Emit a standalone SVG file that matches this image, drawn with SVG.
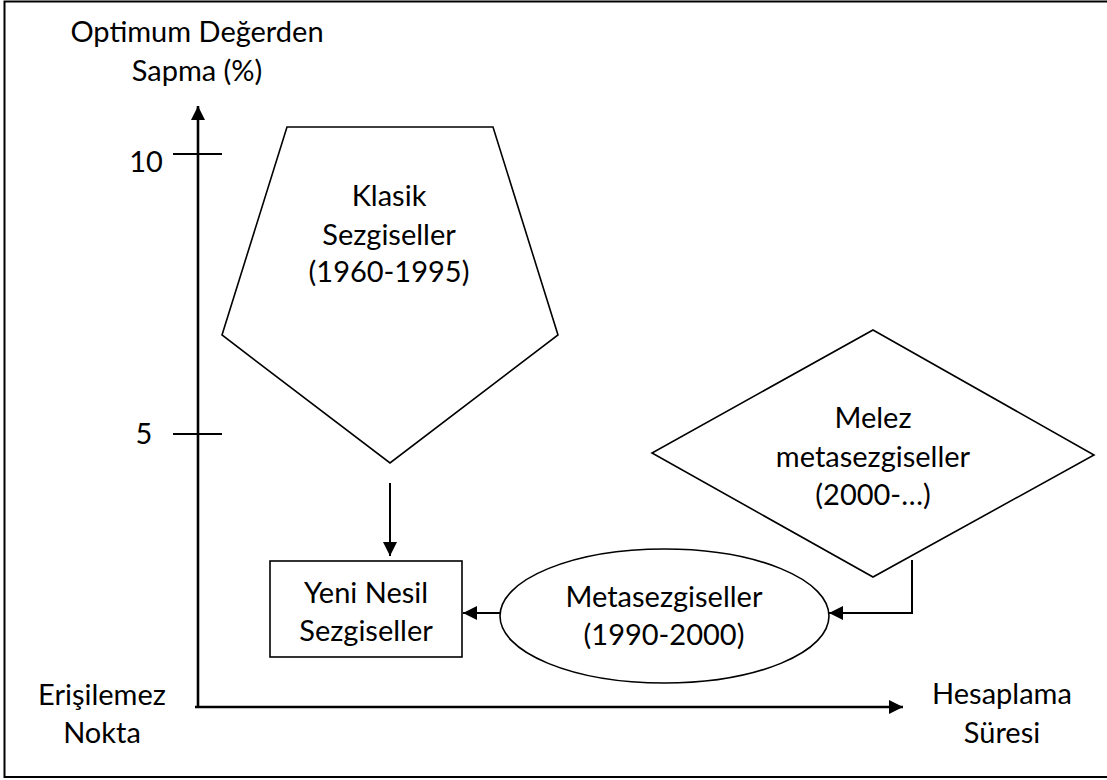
<svg xmlns="http://www.w3.org/2000/svg" width="1107" height="780" viewBox="0 0 1107 780">
  <style>
    text { font-family: Lato, "Open Sans", "Liberation Sans", sans-serif; font-size: 29px; fill: #000; text-anchor: middle; }
    .shape { fill: #fff; stroke: #000; stroke-width: 1.6; }
    .axis { fill: none; stroke: #000; stroke-width: 2.6; }
    .link { fill: none; stroke: #000; stroke-width: 2; }
  </style>
  <defs>
    <marker id="arrow" viewBox="0 0 10 10" refX="10" refY="5" markerWidth="7.5" markerHeight="7.5" markerUnits="userSpaceOnUse" orient="auto">
      <path d="M0,0 L10,5 L0,10 z" fill="#000"/>
    </marker>
    <marker id="arrowLg" viewBox="0 0 10 10" refX="10" refY="5" markerWidth="16" markerHeight="14" markerUnits="userSpaceOnUse" orient="auto">
      <path d="M0,0 L10,5 L0,10 z" fill="#000"/>
    </marker>
  </defs>

  <!-- frame (right edge falls outside the canvas) -->
  <rect x="4.5" y="1.5" width="1120" height="775.5" fill="#fff" stroke="#000" stroke-width="2"/>

  <!-- axes and ticks -->
  <g id="axes">
    <line class="axis" x1="198" y1="708" x2="198" y2="106" marker-end="url(#arrowLg)"/>
    <line class="axis" x1="195" y1="707" x2="903" y2="707" marker-end="url(#arrowLg)"/>
    <line x1="173" y1="154" x2="222" y2="154" stroke="#000" stroke-width="2"/>
    <line x1="173" y1="434" x2="222" y2="434" stroke="#000" stroke-width="2"/>
    <text x="146" y="172">10</text>
    <text x="144" y="444">5</text>
    <text x="197" y="42">Optimum Değerden</text>
    <text x="197" y="81">Sapma (%)</text>
    <text x="102" y="705">Erişilemez</text>
    <text x="102" y="743">Nokta</text>
    <text x="1002" y="704">Hesaplama</text>
    <text x="1002" y="743">Süresi</text>
  </g>

  <!-- connectors -->
  <g id="connectors">
    <line class="link" x1="390" y1="483" x2="390" y2="556" marker-end="url(#arrowLg)"/>
    <line class="link" x1="500" y1="613" x2="463" y2="613" marker-end="url(#arrowLg)"/>
    <polyline class="link" points="912,560 912,613 829,613" marker-end="url(#arrowLg)"/>
  </g>

  <g id="klasik">
    <polygon class="shape" points="287,127 493,127 558,335 390,463 222,335"/>
    <text x="389" y="206">Klasik</text>
    <text x="389" y="245">Sezgiseller</text>
    <text x="389" y="282">(1960-1995)</text>
  </g>

  <g id="melez">
    <polygon class="shape" points="873,330 1094,455 873,577 652,453"/>
    <text x="873" y="428">Melez</text>
    <text x="873" y="467">metasezgiseller</text>
    <text x="873" y="505">(2000-…)</text>
  </g>

  <g id="yeni-nesil">
    <rect class="shape" x="270" y="561" width="192" height="96"/>
    <text x="366" y="603">Yeni Nesil</text>
    <text x="366" y="641">Sezgiseller</text>
  </g>

  <g id="metasezgiseller">
    <ellipse class="shape" cx="664.5" cy="616" rx="164.5" ry="67"/>
    <text x="664" y="607">Metasezgiseller</text>
    <text x="664" y="645">(1990-2000)</text>
  </g>
</svg>
